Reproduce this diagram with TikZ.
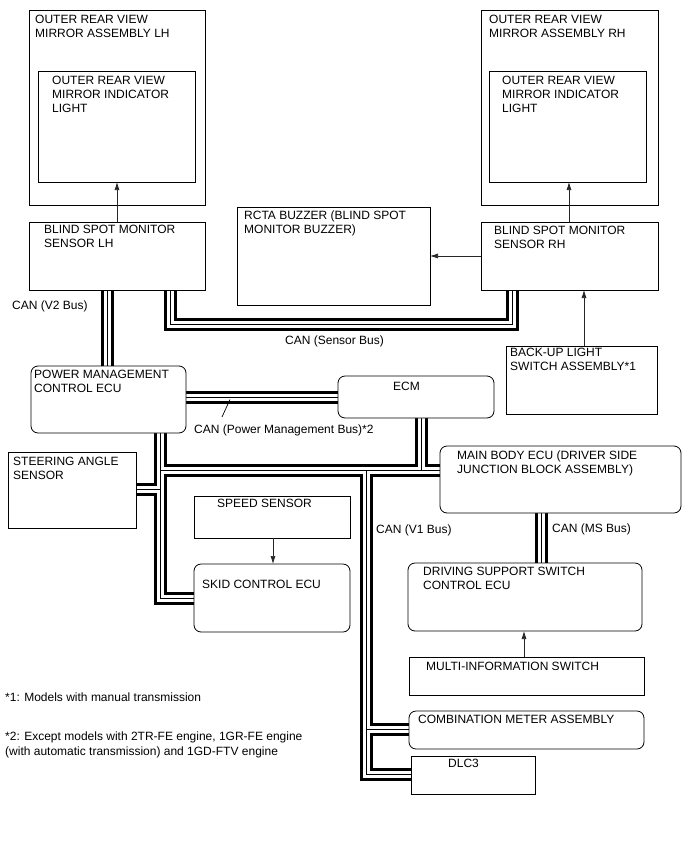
\documentclass[tikz,border=0pt]{standalone}
\usepackage{fontspec}
\setmainfont{Liberation Sans}
\usetikzlibrary{arrows.meta,backgrounds}
\newcommand\mybox[6]{\node[#1,minimum width={#5pt-#3pt},minimum height={#6pt-#4pt}] (#2) at (#3,#4) {};}
\begin{document}
\begin{tikzpicture}[x=1pt,y=-1pt,
 box/.style={draw=black,line width=0.8pt,fill=white,inner sep=0pt,outer sep=0pt,anchor=north west},
 rbox/.style={box,rounded corners=7pt},
 txt/.style={font=\fontsize{12}{14}\selectfont,align=left,inner sep=0pt,anchor=north west,execute at begin node=\strut},
 arr/.style={draw=black!85,line width=0.7pt,-{Latex[length=8pt,width=5pt]}},
 busA/.style={line width=13pt,draw=black},
 busB/.style={line width=7pt,draw=white},
 busC/.style={line width=1pt,draw=black}]
\useasboundingbox (0,0) rectangle (688,852);
% boxes
\mybox{box}{oL}{29}{10}{205}{205}
\mybox{box}{iL}{38}{71}{195}{182}
\mybox{box}{oR}{481}{10}{658}{205}
\mybox{box}{iR}{489}{71}{646}{182}
\mybox{box}{bsmL}{29}{222}{205}{290}
\mybox{box}{rcta}{237}{207}{430}{305}
\mybox{box}{bsmR}{481}{222}{658}{290}
\mybox{box}{backup}{506}{346}{657}{414}
\mybox{rbox}{pmc}{31}{366}{186}{433}
\mybox{rbox}{ecm}{338}{376}{494}{418}
\mybox{box}{steer}{8}{452}{136}{528}
\mybox{box}{speed}{194}{496}{350}{538}
\mybox{rbox}{skid}{194}{564}{350}{632}
\mybox{rbox}{mbe}{440}{446}{681}{513}
\mybox{rbox}{dss}{408}{563}{642}{631}
\mybox{box}{multi}{409}{657}{644}{695}
\mybox{rbox}{comb}{409}{711}{644}{749}
\mybox{box}{dlc}{411}{756}{535}{794}
% texts
\node[txt] (t1) at (35,14.5) {OUTER REAR VIEW\\MIRROR ASSEMBLY LH};
\node[txt] (t2) at (52,75.5) {OUTER REAR VIEW\\MIRROR INDICATOR\\LIGHT};
\node[txt] (t3) at (489,14.5) {OUTER REAR VIEW\\MIRROR ASSEMBLY RH};
\node[txt] (t4) at (502,75.5) {OUTER REAR VIEW\\MIRROR INDICATOR\\LIGHT};
\node[txt] (t5) at (44,225) {BLIND SPOT MONITOR\\SENSOR LH};
\node[txt] (t6) at (244,211) {RCTA BUZZER (BLIND SPOT\\MONITOR BUZZER)};
\node[txt] (t7) at (494,226) {BLIND SPOT MONITOR\\SENSOR RH};
\node[txt] (t8) at (510,347.5) {BACK-UP LIGHT\\SWITCH ASSEMBLY*1};
\node[txt] (t9) at (34,370) {POWER MANAGEMENT\\CONTROL ECU};
\node[txt] (t10) at (393,380) {ECM};
\node[txt] (t11) at (13,456.5) {STEERING ANGLE\\SENSOR};
\node[txt] (t12) at (217,497.5) {SPEED SENSOR};
\node[txt] (t13) at (202,578.5) {SKID CONTROL ECU};
\node[txt] (t14) at (457,451) {MAIN BODY ECU (DRIVER SIDE\\JUNCTION BLOCK ASSEMBLY)};
\node[txt] (t15) at (423,566.5) {DRIVING SUPPORT SWITCH\\CONTROL ECU};
\node[txt] (t16) at (426,660) {MULTI-INFORMATION SWITCH};
\node[txt] (t17) at (418,713.5) {COMBINATION METER ASSEMBLY};
\node[txt] (t18) at (448,757) {DLC3};
\node[txt] (l1) at (12,299) {CAN (V2 Bus)};
\node[txt] (l2) at (285,334.5) {CAN (Sensor Bus)};
\node[txt] (l3) at (194,423) {CAN (Power Management Bus)*2};
\node[txt] (l4) at (376,523) {CAN (V1 Bus)};
\node[txt] (l5) at (552,522) {CAN (MS Bus)};
\node[txt] (f1) at (5,691.5) {*1: Models with manual transmission};
\node[txt] (f2) at (5,731.5) {*2: Except models with 2TR-FE engine, 1GR-FE engine\\[1pt](with automatic transmission) and 1GD-FTV engine};
% coordinates
\coordinate (v2) at (107.5,0);
\coordinate (sb1) at (170.5,0);
\coordinate (sb2) at (512,0);
\coordinate (sbY) at (0,324);
\coordinate (pmY) at (0,397.5);
\coordinate (tr) at (160,0);
\coordinate (skY) at (0,598);
\coordinate (hY) at (0,470);
\coordinate (stY) at (0,489);
\coordinate (ex) at (421,0);
\coordinate (v1) at (366,0);
\coordinate (dY) at (0,774);
\coordinate (cY) at (0,729);
\coordinate (ms) at (541,0);
\coordinate (aL) at (117,0);
\coordinate (aR) at (569,0);
\coordinate (aRc) at (0,256);
\coordinate (aB) at (584,0);
\coordinate (aS) at (273,0);
\coordinate (aM) at (524,0);
\coordinate (ld1) at (222,417);
\coordinate (ld2) at (230,399.5);
% buses
\begin{scope}[on background layer]
\fill[white] (0,0) rectangle (688,852);
\foreach \s in {busA,busB,busC}{
 \draw[\s] (bsmL.south -| v2) -- (pmc.north -| v2);
 \draw[\s] (bsmL.south -| sb1) -- (sb1 |- sbY) -- (sb2 |- sbY) -- (bsmR.south -| sb2);
 \draw[\s] (pmc.east |- pmY) -- (ecm.west |- pmY);
 \draw[\s] (pmc.south -| tr) -- (tr |- skY) -- (skid.west |- skY);
 \draw[\s] (tr |- hY) -- (mbe.west |- hY);
 \draw[\s] (tr |- stY) -- (steer.east |- stY);
 \draw[\s] (ecm.south -| ex) -- (ex |- hY);
 \draw[\s] (v1 |- hY) -- (v1 |- dY) -- (dlc.west |- dY);
 \draw[\s] (v1 |- cY) -- (comb.west |- cY);
 \draw[\s] (mbe.south -| ms) -- (dss.north -| ms);
}
\end{scope}
% arrows
\draw[arr] (bsmL.north -| aL) -- (iL.south -| aL);
\draw[arr] (bsmR.north -| aR) -- (iR.south -| aR);
\draw[arr] (bsmR.west |- aRc) -- (rcta.east |- aRc);
\draw[arr] (backup.north -| aB) -- (bsmR.south -| aB);
\draw[arr] (speed.south -| aS) -- (skid.north -| aS);
\draw[arr] (multi.north -| aM) -- (dss.south -| aM);
\draw[line width=0.7pt] (ld1) -- (ld2);
\end{tikzpicture}
\end{document}
